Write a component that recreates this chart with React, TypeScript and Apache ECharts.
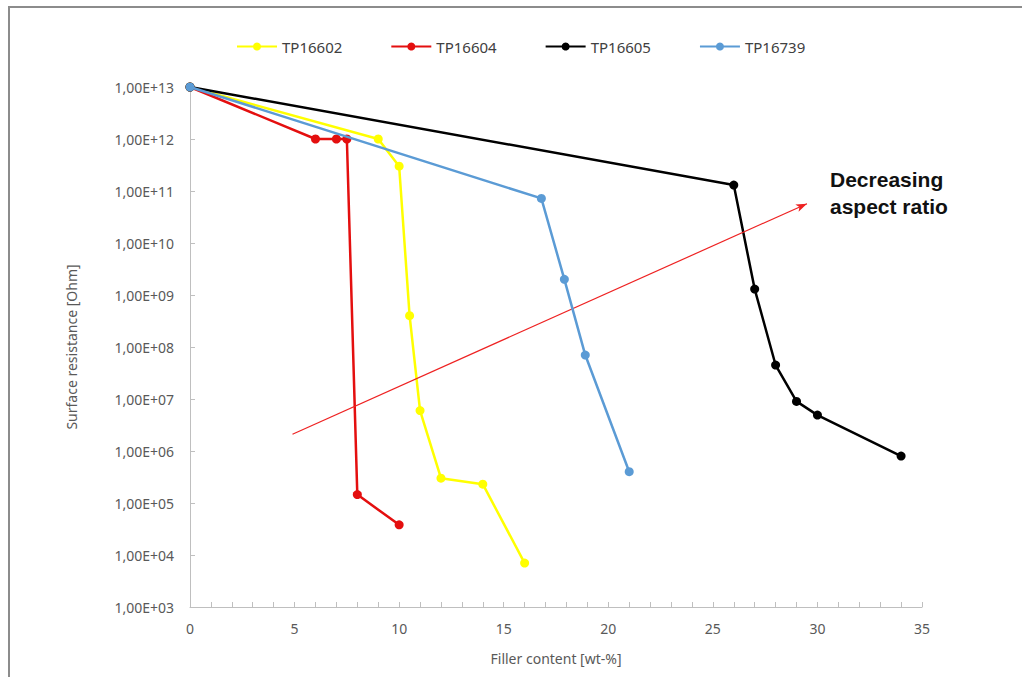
import React, { useEffect, useRef } from "react";
import * as echarts from "echarts";

// Filler content [wt-%] vs. surface resistance [Ohm] per material
const tp16602X = [0, 9, 10, 10.5, 11, 12, 14, 16];
const tp16602Y = [1e13, 1e12, 3e11, 4e8, 6e6, 3e5, 2.3e5, 7e3];

const tp16604X = [0, 6, 7, 7.5, 8, 10];
const tp16604Y = [1e13, 1e12, 1e12, 1e12, 1.45e5, 3.8e4];

const tp16605X = [0, 26, 27, 28, 29, 30, 34];
const tp16605Y = [1e13, 1.3e11, 1.3e9, 4.5e7, 9e6, 4.9e6, 8e5];

const tp16739X = [0, 16.8, 17.9, 18.9, 21];
const tp16739Y = [1e13, 7.2e10, 2e9, 7e7, 4e5];

const seriesNames = ["TP16602", "TP16604", "TP16605", "TP16739"];
const seriesColors = ["#ffff00", "#e40f0f", "#000000", "#5b9bd5"];

// Trend arrow: start and end in data coordinates
const arrowStart = [4.9, 2.1e6];
const arrowEnd = [29.5, 5.7e10];

const zip = (xs: number[], ys: number[]) => xs.map((x, i) => [x, ys[i]]);

export default function App() {
  const ref = useRef<HTMLDivElement>(null);

  useEffect(() => {
    document.body.style.margin = "0";
    if (!ref.current) return;
    const chart = echarts.init(ref.current, null, { renderer: "svg" });
    const font = "'Noto Sans', 'Liberation Sans', sans-serif";
    const axisText = { color: "#595959", fontSize: 14, fontFamily: font };

    const dataSets = [
      zip(tp16602X, tp16602Y),
      zip(tp16604X, tp16604Y),
      zip(tp16605X, tp16605Y),
      zip(tp16739X, tp16739Y),
    ];

    const series: any[] = dataSets.map((d, i) => ({
      name: seriesNames[i],
      type: "line",
      data: d,
      symbol: "circle",
      symbolSize: 9,
      color: seriesColors[i],
      lineStyle: { width: 2.5, color: seriesColors[i] },
      itemStyle: { color: seriesColors[i] },
      z: i === 3 ? 5 : 3,
    }));

    series[2].markLine = {
      silent: true,
      symbol: ["none", "arrow"],
      symbolSize: [6, 11],
      label: { show: false },
      lineStyle: { color: "#ee2222", width: 1.2, type: "solid" },
      data: [[{ coord: arrowStart }, { coord: arrowEnd }]],
    };

    chart.setOption({
      animation: false,
      backgroundColor: "#ffffff",
      grid: { left: 190, right: 100, top: 87, bottom: 70 },
      legend: {
        top: 34,
        left: 231,
        itemWidth: 40,
        itemHeight: 10,
        itemGap: 48,
        textStyle: { color: "#404040", fontSize: 15, fontFamily: font },
        data: seriesNames,
      },
      xAxis: {
        type: "value",
        min: 0,
        max: 35,
        interval: 5,
        name: "Filler content [wt-%]",
        nameLocation: "middle",
        nameGap: 44,
        nameTextStyle: axisText,
        axisLine: { show: true, lineStyle: { color: "#bfbfbf", width: 1 } },
        axisTick: { show: true, inside: true, length: 5, lineStyle: { color: "#bfbfbf" } },
        minorTick: { show: true, splitNumber: 5, length: 5, lineStyle: { color: "#bfbfbf" } },
        splitLine: { show: false },
        axisLabel: { ...axisText, margin: 14 },
      },
      yAxis: {
        type: "log",
        logBase: 10,
        min: 1e3,
        max: 1e13,
        splitNumber: 10,
        name: "Surface resistance [Ohm]",
        nameLocation: "middle",
        nameGap: 112,
        nameTextStyle: axisText,
        axisLine: { show: true, lineStyle: { color: "#bfbfbf", width: 1 } },
        axisTick: { show: true, inside: true, length: 5, lineStyle: { color: "#bfbfbf" } },
        splitLine: { show: false },
        axisLabel: {
          ...axisText,
          margin: 16,
          formatter: (v: number) => {
            const e = Math.round(Math.log10(v));
            return "1,00E+" + String(e).padStart(2, "0");
          },
        },
      },
      graphic: [
        {
          type: "rect",
          shape: { x: 9, y: 7, width: 1040, height: 700 },
          style: { fill: "none", stroke: "#8c8c8c", lineWidth: 2 },
          silent: true,
        },
        {
          type: "text",
          left: 830,
          top: 166,
          style: {
            text: "Decreasing\naspect ratio",
            font: "bold 21px 'Liberation Sans', Arial, sans-serif",
            lineHeight: 27,
            fill: "#111111",
          },
        },
      ],
      series,
    });

    return () => chart.dispose();
  }, []);

  return <div ref={ref} style={{ width: 1022, height: 677 }} />;
}
